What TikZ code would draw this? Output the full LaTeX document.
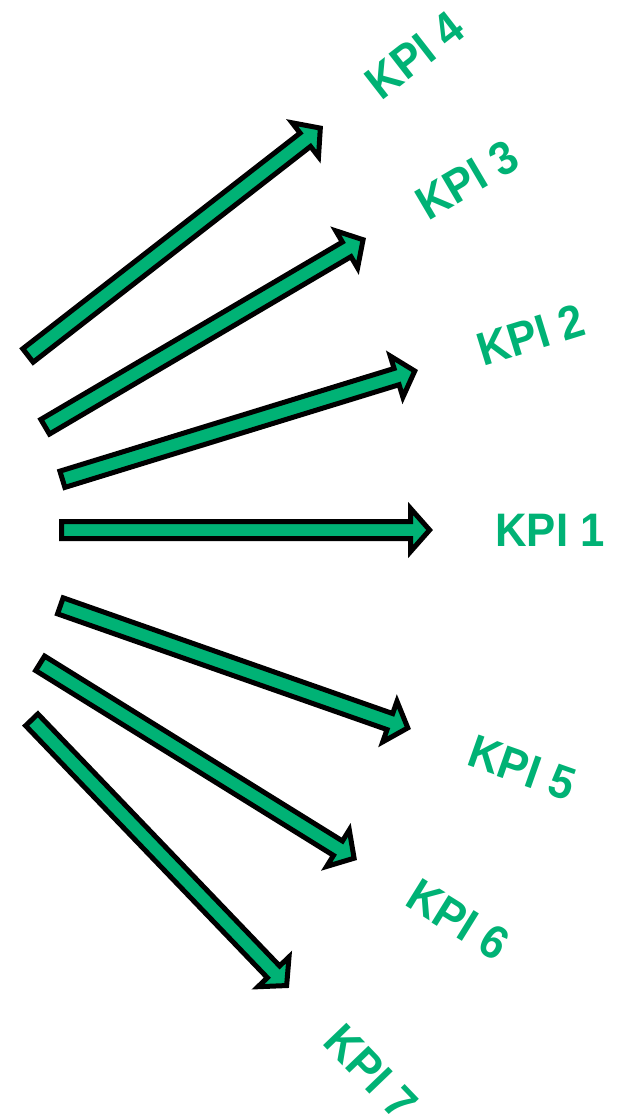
\documentclass[tikz,border=0pt]{standalone}
\usepackage{fontspec}
\setmainfont{Liberation Sans}
\usetikzlibrary{calc}
\definecolor{kpigreen}{RGB}{0,178,117}
\newcommand\kpiarrow[3]{%
  \coordinate (#1-tail) at #2;
  \coordinate (#1-tip) at #3;
  \coordinate (#1-a) at ($(#1-tail)!2.5pt!(#1-tip)$);
  \coordinate (#1-b) at ($(#1-tip)!3.4pt!(#1-tail)$);
  \coordinate (#1-c) at ($(#1-b)!19pt!(#1-a)$);
  \draw[kpishape]
    ($(#1-a)!8.5pt!90:(#1-b)$) --
    ($(#1-c)!8.5pt!90:(#1-b)$) --
    ($(#1-c)!21.5pt!90:(#1-b)$) --
    (#1-b) --
    ($(#1-c)!21.5pt!-90:(#1-b)$) --
    ($(#1-c)!8.5pt!-90:(#1-b)$) --
    ($(#1-a)!8.5pt!-90:(#1-b)$) -- cycle;
}
\newcommand\kpitext[1]{\scalebox{0.93}[1]{#1}}
\begin{document}
\begin{tikzpicture}[x=1pt,y=-1pt,
  kpishape/.style={draw=black, fill=kpigreen, line width=5pt, line join=miter, miter limit=10},
  kpilabel/.style={text=kpigreen, font=\fontsize{47}{47}\selectfont\bfseries, inner sep=0pt}]
\useasboundingbox (0,0) rectangle (631,1120);
\kpiarrow{k4}{(26,357)}{(323,126)}
\kpiarrow{k3}{(43,428)}{(366,238)}
\kpiarrow{k2}{(60,480)}{(418,370)}
\kpiarrow{k1}{(59,530)}{(433,530)}
\kpiarrow{k5}{(58,605)}{(411,729)}
\kpiarrow{k6}{(38,662)}{(357,860)}
\kpiarrow{k7}{(30,718)}{(289,988)}
\node[kpilabel, rotate=37.9] (l4) at (415,55) {\kpitext{KPI 4}};
\node[kpilabel, rotate=30.5] (l3) at (467,180) {\kpitext{KPI 3}};
\node[kpilabel, rotate=17.1] (l2) at (531,335) {\kpitext{KPI 2}};
\node[kpilabel] (l1) at (550,530) {\kpitext{KPI 1}};
\node[kpilabel, rotate=-19.4] (l5) at (522,768) {\kpitext{KPI 5}};
\node[kpilabel, rotate=-31.8] (l6) at (458,920) {\kpitext{KPI 6}};
\node[kpilabel, rotate=-46.2] (l7) at (371,1072) {\kpitext{KPI 7}};
\end{tikzpicture}
\end{document}
